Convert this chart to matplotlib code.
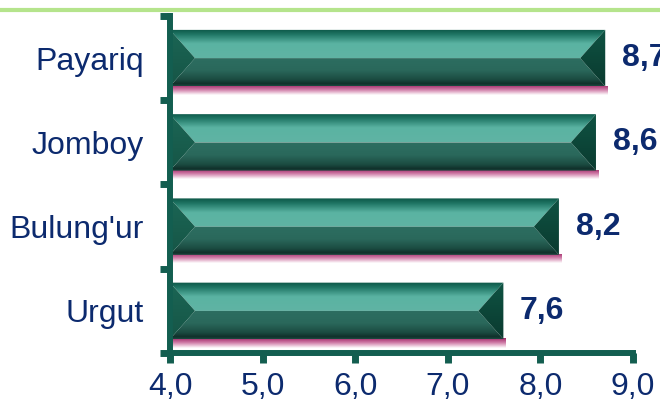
import numpy as np
import matplotlib
matplotlib.use("Agg")
import matplotlib.pyplot as plt
from matplotlib.patches import Polygon
from matplotlib.colors import LinearSegmentedColormap
from matplotlib.lines import Line2D

# data
districts = ["Payariq", "Jomboy", "Bulung'ur", "Urgut"]
values = [8.7, 8.6, 8.2, 7.6]
value_labels = ["8,7", "8,6", "8,2", "7,6"]
xticks = [4.0, 5.0, 6.0, 7.0, 8.0, 9.0]
xtick_labels = ["4,0", "5,0", "6,0", "7,0", "8,0", "9,0"]

dark = "#135e50"
navy = "#0c2a6e"

plt.rcParams['font.family'] = ['Liberation Sans', 'DejaVu Sans']

fig = plt.figure(figsize=(6.6, 4.09), dpi=100)
ax = fig.add_axes([0.2576, 0.1369, 0.7015, 0.824])


def fill_grad(poly, stops, extent, z):
    patch = Polygon(poly, closed=True, facecolor='none', edgecolor='none')
    ax.add_patch(patch)
    cmap = LinearSegmentedColormap.from_list('g', stops)
    arr = np.linspace(0, 1, 256).reshape(-1, 1)
    im = ax.imshow(arr, cmap=cmap, extent=extent, aspect='auto',
                   origin='upper', interpolation='bilinear', zorder=z)
    im.set_clip_path(patch)


top_stops = [(0, '#0c5646'), (0.18, '#1f7564'), (0.5, '#5ab3a2'), (1, '#60b4a4')]
bot_stops = [(0, '#2d6e61'), (0.45, '#2a685b'), (0.78, '#1b4b41'),
             (0.92, '#10302a'), (1, '#1c4a40')]
left_stops = [(0, '#1b6655'), (1, '#165546')]
right_stops = [(0, '#0f5343'), (1, '#0a3a2f')]
pink_stops = [(0, '#a02a68'), (0.45, '#cf7aa6'), (1, '#ffffff')]

h = 0.335
b = 0.27
x0 = 4.0
for i, (name, v) in enumerate(zip(districts, values)):
    yc = len(districts) - 1 - i
    yt, yb = yc + h, yc - h
    # pink shadow under the bar
    fill_grad([(x0, yb + 0.01), (v + 0.03, yb + 0.01), (v + 0.03, yb - 0.1), (x0, yb - 0.1)],
              pink_stops, (x0, v + 0.03, yb - 0.1, yb + 0.01), 1)
    fill_grad([(x0, yt), (v, yt), (v - b, yc), (x0 + b, yc)],
              top_stops, (x0, v, yc, yt), 2)
    fill_grad([(x0 + b, yc), (v - b, yc), (v, yb), (x0, yb)],
              bot_stops, (x0, v, yb, yc), 2)
    fill_grad([(x0, yt), (x0 + b, yc), (x0, yb)],
              left_stops, (x0, x0 + b, yb, yt), 2.1)
    fill_grad([(v, yt), (v - b, yc), (v, yb)],
              right_stops, (v - b, v, yb, yt), 2.1)
    ax.annotate(value_labels[i], xy=(v, yc), xytext=(12, 0), textcoords='offset points',
                ha='left', va='center', fontsize=23, fontweight='bold', color=navy,
                annotation_clip=False)

ax.set_xlim(4.0, 9.0)
ax.set_ylim(-0.5, 3.5)

ax.set_xticks(xticks)
ax.set_xticklabels(xtick_labels)
ax.set_yticks(range(len(districts)))
ax.set_yticklabels(districts[::-1])
ax.set_yticks([-0.5, 0.5, 1.5, 2.5, 3.5], minor=True)

ax.tick_params(axis='x', direction='out', length=7, width=5, color=dark,
               labelsize=23, labelcolor=navy, pad=7)
ax.tick_params(axis='y', which='major', length=0, labelsize=23, labelcolor=navy, pad=19)
ax.tick_params(axis='y', which='minor', direction='out', length=7, width=5, color=dark)

for s in ['top', 'right']:
    ax.spines[s].set_visible(False)
for s in ['left', 'bottom']:
    ax.spines[s].set_color(dark)
    ax.spines[s].set_linewidth(4.3)
    ax.spines[s].set_zorder(3)

fig.add_artist(Line2D([0, 1], [0.976, 0.976], transform=fig.transFigure,
                      color='#b5e48c', linewidth=3))

fig.savefig("out.png", dpi=100)
